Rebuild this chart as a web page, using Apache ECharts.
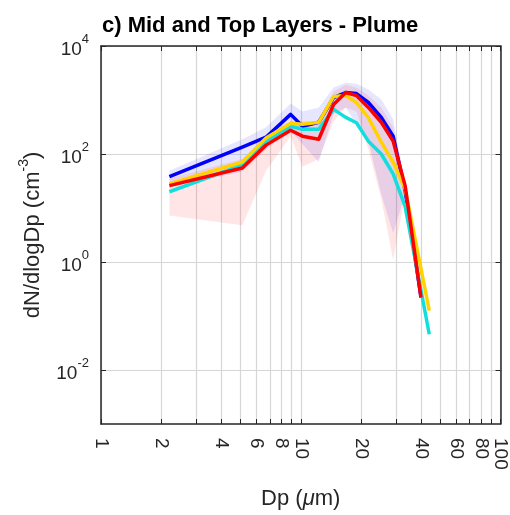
<!DOCTYPE html>
<html>
<head>
<meta charset="utf-8">
<script src="https://cdn.jsdelivr.net/npm/echarts@6/dist/echarts.min.js"></script>
<style>html,body{margin:0;padding:0;background:#fff;}#c{width:510px;height:515px;}</style>
</head>
<body>
<div id="c"></div>
<script>
// ---- data ----
const titleText = 'c) Mid and Top Layers - Plume';
const xTickValues = [1,2,3,4,5,6,7,8,9,10,20,30,40,50,60,70,80,90,100];
const xLabelValues = [1,2,4,6,8,10,20,40,60,80,100];
const yTickValues = [0.01,1,100,10000];

const dpBlue   = [2.2, 5.1, 6.7, 8.9, 10.2, 12.3, 14.6, 16.8, 19.0, 21.8, 25.3, 29.0, 33.3, 40];
const nBlue    = [38, 134, 205, 542, 326, 387, 1111, 1374, 1316, 899, 477, 214, 21, 0.22];
const dpCyan   = [2.2, 5.1, 6.7, 8.9, 10.2, 12.3, 14.6, 16.8, 19.0, 21.8, 25.3, 29.0, 33.3, 44];
const nCyan    = [20, 63, 173, 326, 287, 287, 670, 477, 380, 173, 100, 43, 10.7, 0.046];
const dpYellow = [2.2, 5.1, 6.7, 8.9, 10.2, 12.3, 14.6, 16.8, 19.0, 21.8, 25.3, 29.0, 33.3, 44];
const nYellow  = [28, 71, 197, 371, 355, 387, 1160, 1210, 900, 470, 166, 71, 22.8, 0.126];
const dpRed    = [2.2, 5.1, 6.7, 8.9, 10.2, 12.3, 14.6, 16.8, 19.0, 21.8, 25.3, 29.0, 33.3, 40];
const nRed     = [26, 55, 146, 275, 214, 188, 827, 1374, 1210, 728, 387, 173, 26, 0.22];

const dpBand      = [2.2, 5.1, 6.7, 8.9, 10.2, 12.3, 14.6, 16.8, 19.0, 21.8, 25.3, 29.0, 33.3];
const blueBandHi  = [49, 188, 313, 863, 615, 728, 1695, 2094, 2009, 1560, 1021, 439, 27];
const blueBandLo  = [25, 47, 124, 264, 153, 71, 542, 728, 355, 173, 18, 3.4, 18];
const redBandHi   = [35, 81, 205, 403, 403, 403, 1432, 1923, 1695, 1210, 728, 313, 31];
const redBandLo   = [7.3, 4.8, 49, 214, 58, 81, 403, 728, 615, 124, 15, 1.1, 18];

// ---- chart ----
const FONT = 'Liberation Sans, Arial, sans-serif';
const TXT = '#262626';
const chart = echarts.init(document.getElementById('c'), null, {renderer: 'canvas'});

function pairs(xs, ys) { return xs.map((x, i) => [x, ys[i]]); }

function bandSeries(lo, hi, color) {
  return {
    type: 'custom',
    silent: true,
    z: 1,
    data: dpBand.map((x, i) => [x, lo[i], hi[i]]),
    encode: {x: 0, y: [1, 2]},
    renderItem: function (params, api) {
      if (params.dataIndex !== 0) return null;
      const pts = [];
      for (let i = 0; i < dpBand.length; i++) pts.push(api.coord([dpBand[i], hi[i]]));
      for (let i = dpBand.length - 1; i >= 0; i--) pts.push(api.coord([dpBand[i], lo[i]]));
      return {type: 'polygon', shape: {points: pts}, style: {fill: color}};
    }
  };
}

function lineSeries(xs, ys, color, z) {
  return {
    type: 'line', data: pairs(xs, ys), showSymbol: false, symbol: 'none',
    z: z, silent: true,
    lineStyle: {color: color, width: 3.5, join: 'round'}
  };
}

function supFormatter(v) {
  const e = Math.round(Math.log10(v));
  return '{b|10}{s|' + e + '}';
}

const axisLineStyle = {color: '#262626', width: 1.5};
const gridLineStyle = {color: '#d6d6d6', width: 1.2};

chart.setOption({
  animation: false,
  backgroundColor: '#fff',
  title: {
    text: titleText, left: 97, top: 10,
    textStyle: {fontFamily: FONT, fontSize: 22, fontWeight: 'bold', color: '#000'}
  },
  grid: {left: 101, right: 7, top: 46, bottom: 88, containLabel: false},
  xAxis: [{
    type: 'log', logBase: 10, min: 1, max: 100, position: 'bottom',
    axisLine: {show: true, onZero: false, lineStyle: axisLineStyle},
    axisTick: {show: true, inside: true, length: 5, customValues: xTickValues, lineStyle: {color: '#262626', width: 1}},
    axisLabel: {show: true, customValues: xLabelValues, rotate: -90, margin: 14,
      fontFamily: FONT, fontSize: 19, color: TXT, formatter: v => String(Math.round(v))},
    splitLine: {show: true, lineStyle: gridLineStyle},
    minorTick: {show: false}, minorSplitLine: {show: false},
    name: '{n|Dp (}{i|μ}{n|m)}', nameLocation: 'middle', nameGap: 64,
    nameTextStyle: {
      rich: {
        n: {fontFamily: FONT, fontSize: 22, color: TXT},
        i: {fontFamily: FONT, fontSize: 22, color: TXT, fontStyle: 'italic'}
      }
    }
  }, {
    type: 'log', logBase: 10, min: 1, max: 100, position: 'top',
    axisLine: {show: true, onZero: false, lineStyle: axisLineStyle},
    axisTick: {show: true, inside: true, length: 5, customValues: xTickValues, lineStyle: {color: '#262626', width: 1}},
    axisLabel: {show: false}, splitLine: {show: false}
  }],
  yAxis: [{
    type: 'log', logBase: 10, min: 0.001, max: 10000, position: 'left',
    axisLine: {show: true, onZero: false, lineStyle: axisLineStyle},
    axisTick: {show: true, inside: true, length: 5, customValues: yTickValues, lineStyle: {color: '#262626', width: 1}},
    axisLabel: {show: true, customValues: yTickValues, margin: 12, formatter: supFormatter,
      rich: {
        b: {fontFamily: FONT, fontSize: 19, color: TXT, verticalAlign: 'bottom', lineHeight: 26},
        s: {fontFamily: FONT, fontSize: 13, color: TXT, verticalAlign: 'top', lineHeight: 26}
      }},
    splitLine: {show: true, lineStyle: gridLineStyle},
    name: '{n|dN/dlogDp (cm}{s|-3}{n|)}', nameLocation: 'middle', nameGap: 57,
    nameTextStyle: {
      rich: {
        n: {fontFamily: FONT, fontSize: 22, color: TXT, verticalAlign: 'bottom', lineHeight: 27},
        s: {fontFamily: FONT, fontSize: 14, color: TXT, verticalAlign: 'top', lineHeight: 27}
      }
    }
  }, {
    type: 'log', logBase: 10, min: 0.001, max: 10000, position: 'right',
    axisLine: {show: true, onZero: false, lineStyle: axisLineStyle},
    axisTick: {show: true, inside: true, length: 5, customValues: yTickValues, lineStyle: {color: '#262626', width: 1}},
    axisLabel: {show: false}, splitLine: {show: false}
  }],
  series: [
    bandSeries(blueBandLo, blueBandHi, 'rgba(60,60,255,0.13)'),
    bandSeries(redBandLo, redBandHi, 'rgba(255,40,40,0.12)'),
    lineSeries(dpBlue, nBlue, '#0000ff', 3),
    lineSeries(dpCyan, nCyan, '#12dede', 4),
    lineSeries(dpYellow, nYellow, '#ffd200', 5),
    lineSeries(dpRed, nRed, '#ff0000', 6)
  ]
});
</script>
</body>
</html>
